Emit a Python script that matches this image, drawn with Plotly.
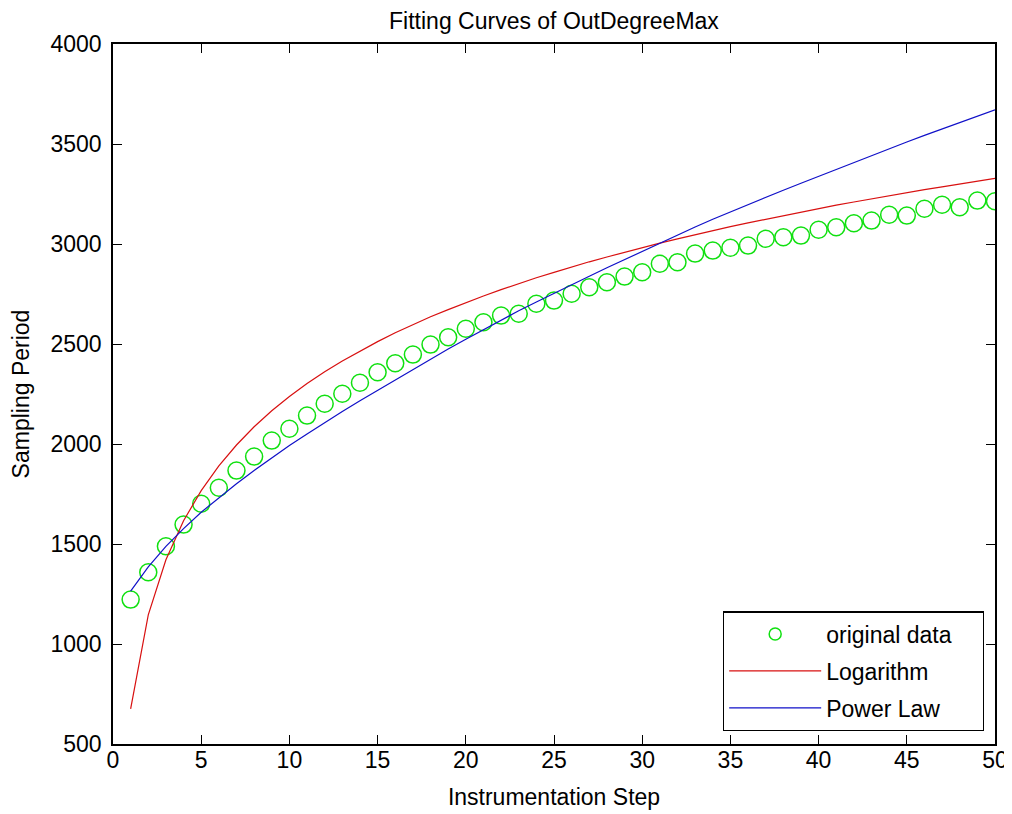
import plotly.graph_objects as go

steps = list(range(1, 51))

original_data = [1222, 1359, 1489, 1597, 1701, 1781, 1867, 1937, 2017, 2076,
                 2142, 2201, 2251, 2306, 2359, 2404, 2447, 2497, 2534, 2576,
                 2609, 2642, 2651, 2701, 2717, 2751, 2784, 2809, 2837, 2859,
                 2901, 2909, 2952, 2967, 2981, 2992, 3026, 3034, 3042, 3071,
                 3084, 3104, 3117, 3146, 3142, 3176, 3196, 3184, 3217, 3214]

logarithm_fit = [676, 1146, 1421, 1616, 1767, 1891, 1995, 2086, 2166, 2237,
                 2302, 2361, 2415, 2465, 2512, 2556, 2597, 2636, 2672, 2707,
                 2740, 2772, 2802, 2831, 2858, 2885, 2911, 2935, 2959, 2982,
                 3004, 3026, 3047, 3067, 3087, 3106, 3124, 3142, 3160, 3177,
                 3194, 3210, 3226, 3242, 3257, 3272, 3286, 3301, 3315, 3328]

power_law_fit = [1264, 1386, 1488, 1577, 1659, 1732, 1801, 1868, 1931, 1992,
                 2050, 2107, 2162, 2216, 2268, 2322, 2374, 2425, 2475, 2524,
                 2572, 2621, 2666, 2710, 2754, 2797, 2839, 2881, 2922, 2964,
                 3006, 3046, 3085, 3124, 3161, 3197, 3233, 3269, 3304, 3339,
                 3373, 3408, 3443, 3476, 3510, 3543, 3576, 3608, 3640, 3671]

x_ticks = list(range(0, 51, 5))
y_ticks = list(range(500, 4001, 500))

FONT = "Liberation Sans, Arial, sans-serif"
GREEN = "#10e010"
PAD = "\u00a0" * 4

fig = go.Figure()
fig.add_trace(go.Scatter(
    x=steps, y=original_data, mode="markers", name="original data",
    showlegend=False,
    marker=dict(symbol="circle-open", size=17, color=GREEN,
                line=dict(width=1.5, color=GREEN)),
))
# legend-only entry with a smaller symbol, as in the reference legend
fig.add_trace(go.Scatter(
    x=[None], y=[None], mode="markers", name="original data" + PAD,
    legendgroup="g1",
    marker=dict(symbol="circle-open", size=12, color=GREEN,
                line=dict(width=1.5, color=GREEN)),
))
fig.add_trace(go.Scatter(
    x=steps, y=logarithm_fit, mode="lines", name="Logarithm",
    legendgroup="g2",
    line=dict(color="#d81010", width=1.2),
))
fig.add_trace(go.Scatter(
    x=steps, y=power_law_fit, mode="lines", name="Power Law",
    legendgroup="g3",
    line=dict(color="#1010c8", width=1.2),
))

axis_common = dict(
    showline=True, linecolor="black", linewidth=1.5, mirror="ticks",
    ticks="inside", ticklen=9, tickwidth=1.2, tickcolor="black",
    showgrid=False, zeroline=False,
    tickfont=dict(family=FONT, size=23, color="black"),
)

fig.update_xaxes(
    range=[0, 50], tickvals=x_ticks, ticktext=[str(v) for v in x_ticks],
    title=dict(text="Instrumentation Step", font=dict(family=FONT, size=23, color="black"), standoff=17),
    ticklabelstandoff=-5,
    **axis_common,
)
fig.update_yaxes(
    range=[500, 4000], tickvals=y_ticks, ticktext=[str(v) for v in y_ticks],
    title=dict(text="Sampling Period", font=dict(family=FONT, size=23, color="black"), standoff=14),
    ticklabelstandoff=5,
    **axis_common,
)

fig.update_layout(
    width=1004, height=806,
    margin=dict(l=105, r=17, t=36, b=70, autoexpand=False),
    paper_bgcolor="white", plot_bgcolor="white",
    title=dict(text="Fitting Curves of OutDegreeMax", x=0.5438, xanchor="center",
               y=0.984, yanchor="middle",
               font=dict(family=FONT, size=23, color="black")),
    legend=dict(x=0.9875, y=0.018, xanchor="right", yanchor="bottom",
                bgcolor="white", bordercolor="black", borderwidth=1.2,
                font=dict(family=FONT, size=23, color="black"),
                itemwidth=92, tracegroupgap=4, traceorder="grouped"),
    showlegend=True,
)

fig.write_html("out.html")
